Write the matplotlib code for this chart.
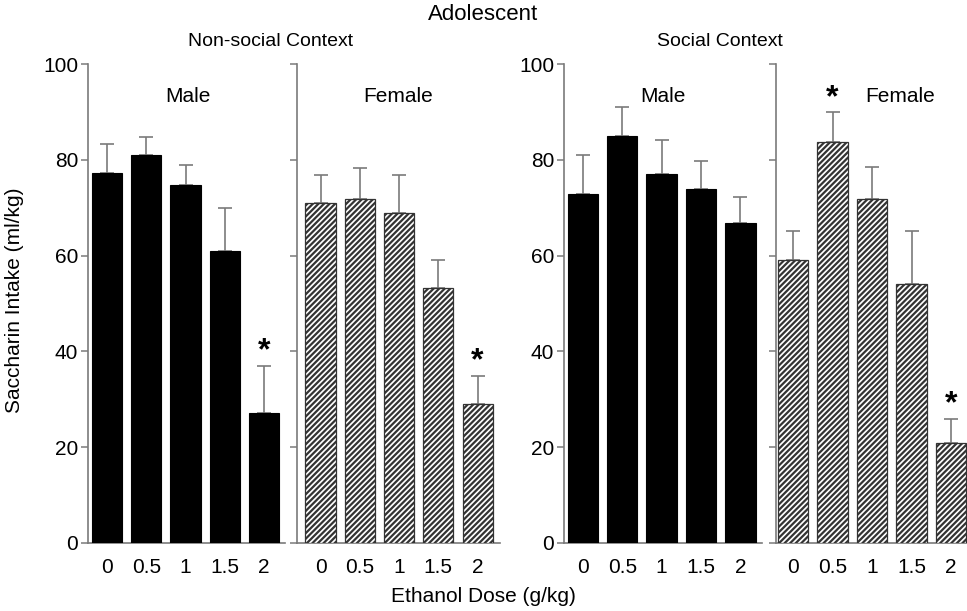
import matplotlib
matplotlib.use("Agg")
import matplotlib.pyplot as plt
import numpy as np

plt.rcParams['font.family'] = ['Liberation Sans', 'DejaVu Sans']
plt.rcParams['hatch.linewidth'] = 1.6
plt.rcParams['hatch.color'] = 'black'

doses = ["0", "0.5", "1", "1.5", "2"]

nonsocial_male_mean = [77.3, 81.0, 74.7, 61.0, 27.2]
nonsocial_male_top = [83.2, 84.8, 78.9, 70.0, 37.0]
nonsocial_female_mean = [71.0, 71.9, 68.8, 53.2, 29.0]
nonsocial_female_top = [76.9, 78.2, 76.9, 59.1, 34.9]
social_male_mean = [72.9, 84.9, 77.0, 73.8, 66.9]
social_male_top = [81.1, 91.0, 84.1, 79.7, 72.2]
social_female_mean = [59.1, 83.8, 71.8, 54.1, 20.8]
social_female_top = [65.1, 89.9, 78.5, 65.1, 25.9]

nonsocial_male_sig = [False, False, False, False, True]
nonsocial_female_sig = [False, False, False, False, True]
social_male_sig = [False, False, False, False, False]
social_female_sig = [False, True, False, False, True]

W, H = 967, 611
fig = plt.figure(figsize=(W / 100, H / 100), dpi=100)

gray = '#7a7a7a'
ybot, ytop = 543, 64

panels = [
    # left px, right px, xlim, means, tops, sig, female, label
    (88, 285, (-0.48, 4.53), nonsocial_male_mean, nonsocial_male_top, nonsocial_male_sig, False, "Male"),
    (297, 500, (-0.60, 4.57), nonsocial_female_mean, nonsocial_female_top, nonsocial_female_sig, True, "Female"),
    (564, 762, (-0.48, 4.55), social_male_mean, social_male_top, social_male_sig, False, "Male"),
    (776, 967, (-0.43, 4.40), social_female_mean, social_female_top, social_female_sig, True, "Female"),
]

label_px = [188, 398, 663, 900]

for (l, r, xl, means, tops, sig, female, lab), lx in zip(panels, label_px):
    ax = fig.add_axes([l / W, 1 - ybot / H, (r - l) / W, (ybot - ytop) / H])
    x = np.arange(len(doses))
    means = np.array(means)
    tops = np.array(tops)
    if female:
        ax.bar(x, means, width=0.77, color='white', edgecolor='#333333',
               hatch='//////', linewidth=0.9, zorder=3)
    else:
        ax.bar(x, means, width=0.77, color='black', edgecolor='black',
               linewidth=0.8, zorder=3)
    ax.errorbar(x, means, yerr=[np.zeros_like(means), tops - means], fmt='none',
                ecolor=gray, elinewidth=1.2, capsize=5, capthick=1.2, zorder=2)
    for xi, t, s in zip(x, tops, sig):
        if s:
            ax.text(xi, t + 3.0, "*", ha='center', va='center', fontsize=23,
                    fontweight='bold')
    ax.set_xlim(*xl)
    ax.set_ylim(0, 100)
    ax.set_xticks(x)
    ax.set_xticklabels(doses, fontsize=15)
    ax.tick_params(axis='x', length=0, pad=11)
    ax.set_yticks([0, 20, 40, 60, 80, 100])
    ax.tick_params(axis='y', length=5, width=1.1, color=gray, pad=2, labelsize=15)
    if female:
        ax.set_yticklabels([])
    for sp in ['top', 'right']:
        ax.spines[sp].set_visible(False)
    for sp in ['left', 'bottom']:
        ax.spines[sp].set_color(gray)
        ax.spines[sp].set_linewidth(1.2)
    ax.patch.set_alpha(0)
    fig.text(lx / W, 1 - 97 / H, lab, ha='center', va='center', fontsize=15)

fig.text(483 / W, 1 - 15 / H, "Adolescent", ha='center', va='center', fontsize=16)
fig.text(271 / W, 1 - 42 / H, "Non-social Context", ha='center', va='center', fontsize=14)
fig.text(720 / W, 1 - 42 / H, "Social Context", ha='center', va='center', fontsize=14)
fig.text(15 / W, 1 - 300 / H, "Saccharin Intake (ml/kg)", ha='center', va='center',
         rotation=90, fontsize=15)
fig.text(483 / W, 1 - 597 / H, "Ethanol Dose (g/kg)", ha='center', va='center', fontsize=15)

fig.savefig("out.png", dpi=100)
